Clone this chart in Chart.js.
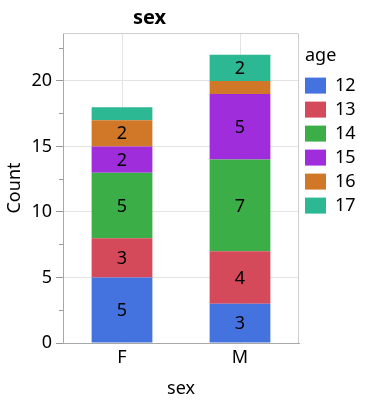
<!DOCTYPE html>
<html>
<head>
<meta charset="utf-8">
<script src="https://cdn.jsdelivr.net/npm/chart.js@4.4.1/dist/chart.umd.min.js"></script>
<style>
  html, body { margin: 0; padding: 0; background: #fff; }
  #wrap { position: relative; width: 371px; height: 400px; }
</style>
</head>
<body>
<div id="wrap"><canvas id="c" width="371" height="400"></canvas></div>
<script>
const categories = ['F', 'M'];
const ages = ['12', '13', '14', '15', '16', '17'];
const age12 = [5, 3];
const age13 = [3, 4];
const age14 = [5, 7];
const age15 = [2, 5];
const age16 = [2, 1];
const age17 = [1, 2];
const chartTitle = 'sex';
const legendTitle = 'age';
const xTitle = 'sex';
const yTitle = 'Count';
const colors = ['#4472de', '#d54a5a', '#3cae48', '#a02ddc', '#d07828', '#2bb893'];

const seriesValues = [age12, age13, age14, age15, age16, age17];
const FONT = "'Noto Sans', 'Open Sans', sans-serif";

const datasets = ages.map((a, i) => ({
  label: a,
  data: seriesValues[i],
  backgroundColor: colors[i],
  borderWidth: 0,
  categoryPercentage: 1,
  barPercentage: 0.515
}));

const isMajor = v => Math.abs(v % 5) < 1e-9;

const extras = {
  id: 'extras',
  beforeUpdate(chart) {
    if (chart.legend && !chart.legend._patched) {
      const lg = chart.legend;
      const f = lg.fit;
      lg.fit = function () { f.call(this); this.width = 72; };
      lg._patched = true;
    }
  },
  beforeDatasetsDraw(chart) {
    const { ctx, chartArea: a } = chart;
    ctx.save();
    ctx.strokeStyle = '#cfcfcf';
    ctx.lineWidth = 1;
    ctx.beginPath();
    ctx.moveTo(a.left, Math.round(a.top) + 0.5);
    ctx.lineTo(a.right - 0.5, Math.round(a.top) + 0.5);
    ctx.lineTo(a.right - 0.5, a.bottom);
    ctx.stroke();
    ctx.restore();
  },
  afterDatasetsDraw(chart) {
    const { ctx } = chart;
    ctx.save();
    ctx.font = '18px ' + FONT;
    ctx.fillStyle = '#000';
    ctx.textAlign = 'center';
    ctx.textBaseline = 'middle';
    chart.data.datasets.forEach((ds, i) => {
      const meta = chart.getDatasetMeta(i);
      meta.data.forEach((el, j) => {
        const v = ds.data[j];
        if (v >= 2) {
          ctx.fillText(String(v), el.x, (el.y + el.base) / 2 + 1);
        }
      });
    });
    ctx.restore();
  },
  afterDraw(chart) {
    const { ctx, chartArea: a } = chart;
    ctx.save();
    ctx.fillStyle = '#000';
    ctx.textBaseline = 'alphabetic';
    ctx.font = 'bold 20px ' + FONT;
    ctx.textAlign = 'center';
    ctx.fillText(chartTitle, a.right / 2, 24);
    const lg = chart.legend;
    ctx.font = '18px ' + FONT;
    ctx.textAlign = 'left';
    ctx.fillText(legendTitle, lg.left + 6, 61);
    ctx.restore();
  }
};

new Chart(document.getElementById('c'), {
  type: 'bar',
  data: { labels: categories, datasets },
  plugins: [extras],
  options: {
    responsive: false,
    animation: false,
    devicePixelRatio: 1,
    layout: { padding: { top: 33, left: 0, right: 0, bottom: 0 } },
    plugins: {
      title: { display: false },
      tooltip: { enabled: false },
      legend: {
        position: 'right',
        align: 'start',
        title: { display: true, text: '', font: { family: FONT, size: 18 }, padding: { top: 16, bottom: 0 } },
        labels: {
          boxWidth: 21,
          boxHeight: 16,
          padding: 6,
          color: '#000',
          font: { family: FONT, size: 18 }
        }
      }
    },
    scales: {
      x: {
        stacked: true,
        afterFit: s => { s.height = 57; },
        grid: { offset: false, color: '#e3e3e3', drawTicks: false },
        border: { display: true, color: '#a8a8a8' },
        ticks: { color: '#000', font: { family: FONT, size: 18 }, padding: 4 },
        title: { display: true, text: xTitle, color: '#000', font: { family: FONT, size: 18 }, padding: { top: 2, bottom: 0 } }
      },
      y: {
        stacked: true,
        min: 0,
        max: 23.66,
        afterFit: s => { s.width = 63; },
        grid: {
          color: c => (c.tick && isMajor(c.tick.value) && c.tick.value !== 0) ? '#e3e3e3' : 'rgba(0,0,0,0)',
          tickLength: 7,
          tickColor: '#9a9a9a',
          tickBorderDash: c => (c.tick && !isMajor(c.tick.value)) ? [0, 3, 4, 0] : []
        },
        border: { display: true, color: '#a8a8a8' },
        ticks: {
          stepSize: 2.5,
          includeBounds: false,
          color: '#000',
          padding: 4,
          font: { family: FONT, size: 18 },
          callback: v => isMajor(v) ? String(v) : ''
        },
        title: { display: true, text: yTitle, color: '#000', font: { family: FONT, size: 18 }, padding: { top: 4, bottom: 0 } }
      }
    }
  }
});
</script>
</body>
</html>
